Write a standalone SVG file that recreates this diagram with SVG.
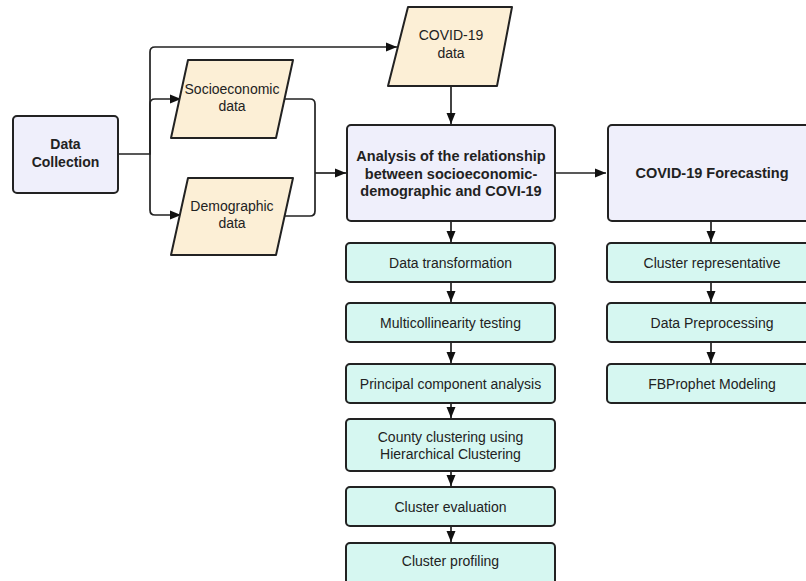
<svg xmlns="http://www.w3.org/2000/svg" width="806" height="581" viewBox="0 0 806 581">
<defs>
<style>
.hub{fill:#EFEFFB;stroke:#222;stroke-width:2}
.io{fill:#FCEFD6;stroke:#222;stroke-width:2;stroke-linejoin:round}
.proc{fill:#D6F7F1;stroke:#222;stroke-width:2}
.t{font-family:"Liberation Sans",Arial,sans-serif;font-size:14px;fill:#222;text-anchor:middle}
.b{font-weight:bold}
.big{font-size:14.5px}
.c{fill:none;stroke:#222;stroke-width:1.7}
</style>
<marker id="ah" markerUnits="userSpaceOnUse" markerWidth="11" markerHeight="10" viewBox="0 0 11 10" refX="11" refY="5" orient="auto">
<path d="M0,0.5 L11,5 L0,9.5 Z" fill="#111"/>
</marker>
</defs>
<rect width="806" height="581" fill="#fff"/>
<g id="connectors">
<path class="c" d="M118,154 H150 V52 Q150,47 155,47 H397" marker-end="url(#ah)"/>
<path class="c" d="M150,154 V104 Q150,99 155,99 H181" marker-end="url(#ah)"/>
<path class="c" d="M150,154 V210 Q150,215 155,215 H181" marker-end="url(#ah)"/>
<path class="c" d="M284,99 H310 Q315,99 315,104 V173"/>
<path class="c" d="M284,216 H310 Q315,216 315,211 V173"/>
<path class="c" d="M315,173 H346" marker-end="url(#ah)"/>
<path class="c" d="M451,86 V124" marker-end="url(#ah)"/>
<path class="c" d="M555,173 H606" marker-end="url(#ah)"/>
<path class="c" d="M451,221 V242" marker-end="url(#ah)"/>
<path class="c" d="M451,282 V302" marker-end="url(#ah)"/>
<path class="c" d="M451,342 V363" marker-end="url(#ah)"/>
<path class="c" d="M451,403 V418" marker-end="url(#ah)"/>
<path class="c" d="M451,471 V486" marker-end="url(#ah)"/>
<path class="c" d="M451,526 V542" marker-end="url(#ah)"/>
<path class="c" d="M711,221 V242" marker-end="url(#ah)"/>
<path class="c" d="M711,282 V302" marker-end="url(#ah)"/>
<path class="c" d="M711,342 V363" marker-end="url(#ah)"/>
</g>
<g id="data-collection">
<rect class="hub" x="13" y="116" width="105" height="77" rx="4"/>
<text class="t b" x="65.5" y="149">Data</text>
<text class="t b" x="65.5" y="167">Collection</text>
</g>
<g id="covid-data">
<path class="io" d="M408,7 H512 L497,86 H388 Z"/>
<text class="t" x="451" y="40">COVID-19</text>
<text class="t" x="451" y="58">data</text>
</g>
<g id="socioeconomic-data">
<path class="io" d="M188,60 H293 L276,138 H171 Z"/>
<text class="t" x="232" y="94">Socioeconomic</text>
<text class="t" x="232" y="111">data</text>
</g>
<g id="demographic-data">
<path class="io" d="M188,178 H293 L276,255 H171 Z"/>
<text class="t" x="232" y="211">Demographic</text>
<text class="t" x="232" y="228">data</text>
</g>
<g id="analysis">
<rect class="hub" x="347" y="125" width="208" height="96" rx="4"/>
<text class="t b big" x="451" y="161">Analysis of the relationship</text>
<text class="t b big" x="451" y="178.5">between socioeconomic-</text>
<text class="t b big" x="451" y="196">demographic and COVI-19</text>
</g>
<g id="forecasting">
<rect class="hub" x="608" y="125" width="208" height="96" rx="4"/>
<text class="t b big" x="712" y="178">COVID-19 Forecasting</text>
</g>
<g id="data-transformation">
<rect class="proc" x="346" y="243" width="209" height="39" rx="4"/>
<text class="t" x="450.5" y="267.5">Data transformation</text>
</g>
<g id="multicollinearity">
<rect class="proc" x="346" y="303" width="209" height="39" rx="4"/>
<text class="t" x="450.5" y="327.5">Multicollinearity testing</text>
</g>
<g id="pca">
<rect class="proc" x="346" y="364" width="209" height="39" rx="4"/>
<text class="t" x="450.5" y="388.5">Principal component analysis</text>
</g>
<g id="county-clustering">
<rect class="proc" x="346" y="419" width="209" height="52" rx="4"/>
<text class="t" x="450.5" y="442">County clustering using</text>
<text class="t" x="450.5" y="459">Hierarchical Clustering</text>
</g>
<g id="cluster-evaluation">
<rect class="proc" x="346" y="487" width="209" height="39" rx="4"/>
<text class="t" x="450.5" y="511.5">Cluster evaluation</text>
</g>
<g id="cluster-profiling">
<rect class="proc" x="346" y="543" width="209" height="42" rx="4"/>
<text class="t" x="450.5" y="566">Cluster profiling</text>
</g>
<g id="cluster-representative">
<rect class="proc" x="607" y="243" width="209" height="39" rx="4"/>
<text class="t" x="712" y="267.5">Cluster representative</text>
</g>
<g id="data-preprocessing">
<rect class="proc" x="607" y="303" width="209" height="39" rx="4"/>
<text class="t" x="712" y="327.5">Data Preprocessing</text>
</g>
<g id="fbprophet">
<rect class="proc" x="607" y="364" width="209" height="39" rx="4"/>
<text class="t" x="712" y="388.5">FBProphet Modeling</text>
</g>
</svg>
